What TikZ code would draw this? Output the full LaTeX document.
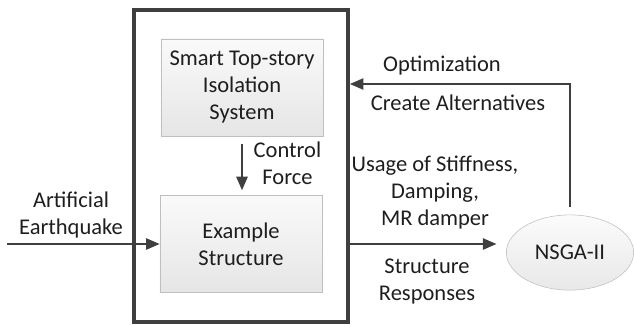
\documentclass[tikz,border=0pt]{standalone}
\usepackage{fontspec}
\setmainfont{Carlito}
\usetikzlibrary{arrows.meta,shapes.geometric,positioning}
\definecolor{linegray}{HTML}{3F3F3F}
\definecolor{boxgray}{HTML}{BFBFBF}
\definecolor{textgray}{HTML}{1E1E1E}
\begin{document}
\begin{tikzpicture}[
    x=0.025cm, y=-0.025cm,
    >={Triangle[length=0.34cm,width=0.28cm]},
    every node/.style={font=\fontsize{16}{19.2}\selectfont, text=textgray, align=center},
    block/.style={draw=boxgray, rectangle, minimum width=4.05cm, minimum height=2.43cm, top color=gray!4, bottom color=gray!20},
    arrow/.style={->, line width=1.4pt, draw=linegray}
]
  \useasboundingbox (0,0) rectangle (634,324);

  \node[draw=linegray, line width=2.6pt, minimum width=5.35cm, minimum height=7.8cm] (plant) at (241,166) {};
  \node[block] (smart) at (242,87.5) {Smart Top-story\\Isolation\\System};
  \node[block] (example) at (241,244) {Example\\Structure};
  \node[ellipse, draw=boxgray, top color=gray!3, bottom color=gray!18, inner sep=0pt, minimum width=3.18cm, minimum height=1.88cm] (nsga) at (570,252.5) {NSGA-II};

  \coordinate (quake) at (7,244);

  \draw[arrow] (quake) -- (example.west);
  \draw[arrow, shorten <=0.18cm, shorten >=0.12cm] (smart.south) -- (smart.south |- example.north);
  \draw[arrow, shorten >=0.24cm] (plant.east |- example.east) -- (nsga.west |- example.east);
  \draw[arrow, shorten <=0.2cm] (nsga.north) |- (plant.east |- 0,84);

  % Labels on the connectors
  \node (quakelabel) at (71,215) {Artificial\\Earthquake};
  \node (force) at (287.5,163.5) {Control\\Force};
  \node (optim) at (442,66) {Optimization};
  \node (alter) at (458,103) {Create Alternatives};
  \node (usage) at (435,193) {Usage of Stiffness,\\Damping,\\MR damper};
  \node (resp) at (427,282) {Structure\\Responses};
\end{tikzpicture}
\end{document}
